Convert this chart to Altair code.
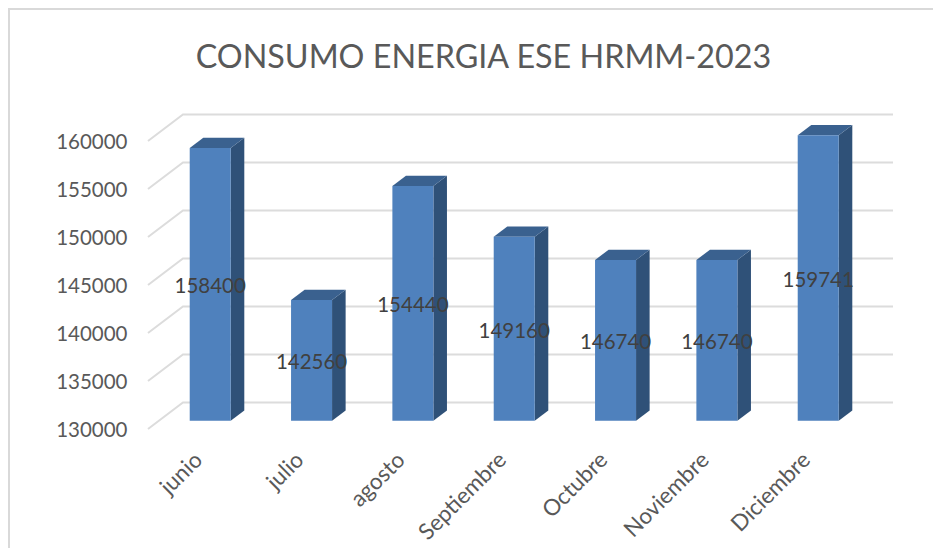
import altair as alt
import pandas as pd

categories = ["junio", "julio", "agosto", "Septiembre", "Octubre", "Noviembre", "Diciembre"]
values = [158400, 142560, 154440, 149160, 146740, 146740, 159741]
ticks = [130000, 135000, 140000, 145000, 150000, 155000, 160000]
title_text = "CONSUMO ENERGIA ESE HRMM-2023"

BASE = 130000
X0, X1 = -0.614, 6.738
Y1 = 165000
WALL_DX, WALL_DY = 0.345, 2760      # depth of the back wall
PLANE_DY = 865                       # bars stand slightly behind the front plane
HALF = 0.2023
BAR_DX, BAR_DY = 0.134, 1073         # depth of a bar
FONT = "Lato"

xs = alt.Scale(domain=[X0, X1], nice=False, zero=False)
ys = alt.Scale(domain=[BASE, Y1], nice=False, zero=False)

grid, front, side, top, labels = [], [], [], [], []
for t in ticks:
    grid += [
        {"t": t, "o": 0, "x": X0, "y": t},
        {"t": t, "o": 1, "x": X0 + WALL_DX, "y": t + WALL_DY},
        {"t": t, "o": 2, "x": X1, "y": t + WALL_DY},
    ]
for i, (c, v) in enumerate(zip(categories, values)):
    b = BASE + PLANE_DY
    h = v + PLANE_DY
    L, R = i - HALF, i + HALF
    front.append({"x": L, "x2": R, "y": b, "y2": h})
    side += [
        {"c": c, "x": R, "y": b, "y2": h},
        {"c": c, "x": R + BAR_DX, "y": b + BAR_DY, "y2": h + BAR_DY},
    ]
    top += [
        {"c": c, "x": L, "y": h, "y2": h},
        {"c": c, "x": L + BAR_DX, "y": h, "y2": h + BAR_DY},
        {"c": c, "x": R, "y": h, "y2": h + BAR_DY},
        {"c": c, "x": R + BAR_DX, "y": h + BAR_DY, "y2": h + BAR_DY},
    ]
    labels.append({"x": i, "y": (BASE + v) / 2 + PLANE_DY, "t": str(v)})

label_expr = "[" + ",".join(f"'{c}'" for c in categories) + "][datum.value]"

x_axis = alt.Axis(
    values=list(range(len(categories))), labelExpr=label_expr, labelAngle=-45,
    labelAlign="right", labelBaseline="middle", labelFont=FONT, labelFontSize=22.5,
    labelColor="#595959", labelPadding=27, labelOffset=-12, domain=False, ticks=False,
    grid=False, title=None,
)
y_axis = alt.Axis(
    values=ticks, format="d", labelFont=FONT, labelFontSize=20.5, labelColor="#595959",
    labelPadding=21, labelOffset=1.5, domain=False, ticks=False, grid=False, title=None,
)

frame = alt.Chart(pd.DataFrame({"a": [0]})).mark_rule(color="#d9d9d9", strokeWidth=2)
frame_left = frame.encode(x=alt.value(-139), y=alt.value(-85), y2=alt.value(459))
frame_top = frame.encode(x=alt.value(-140), x2=alt.value(785), y=alt.value(-84))

g = alt.Chart(pd.DataFrame(grid)).mark_line(color="#dcdcdc", strokeWidth=2).encode(
    x=alt.X("x:Q", scale=xs, axis=x_axis),
    y=alt.Y("y:Q", scale=ys, axis=y_axis),
    detail="t:N",
    order="o:Q",
)
s = alt.Chart(pd.DataFrame(side)).mark_area(color="#2f5178", opacity=1).encode(
    x=alt.X("x:Q", scale=xs), y=alt.Y("y:Q", scale=ys), y2="y2:Q", detail="c:N",
)
t_ = alt.Chart(pd.DataFrame(top)).mark_area(color="#3a618f", opacity=1).encode(
    x=alt.X("x:Q", scale=xs), y=alt.Y("y:Q", scale=ys), y2="y2:Q", detail="c:N",
)
f = alt.Chart(pd.DataFrame(front)).mark_rect(color="#4f81bd").encode(
    x=alt.X("x:Q", scale=xs), x2="x2:Q", y=alt.Y("y:Q", scale=ys), y2="y2:Q",
)
txt = alt.Chart(pd.DataFrame(labels)).mark_text(
    font=FONT, fontSize=20.5, color="#404040", align="center", baseline="middle", dy=3,
).encode(x=alt.X("x:Q", scale=xs), y=alt.Y("y:Q", scale=ys), text="t:N")

chart = alt.layer(frame_left, frame_top, g, s, t_, f, txt).properties(
    width=745, height=336,
    autosize=alt.AutoSizeParams(type="none"),
    padding={"left": 140, "top": 85, "right": 40, "bottom": 119},
    title=alt.TitleParams(
        title_text, font=FONT, fontSize=32.3, fontWeight="normal", color="#595959",
        anchor="middle", frame="group", dx=-37, offset=-67,
    ),
).configure_view(stroke=None).resolve_scale(x="shared", y="shared")

chart.save("out.html", embed_options={"renderer": "svg", "actions": False})
